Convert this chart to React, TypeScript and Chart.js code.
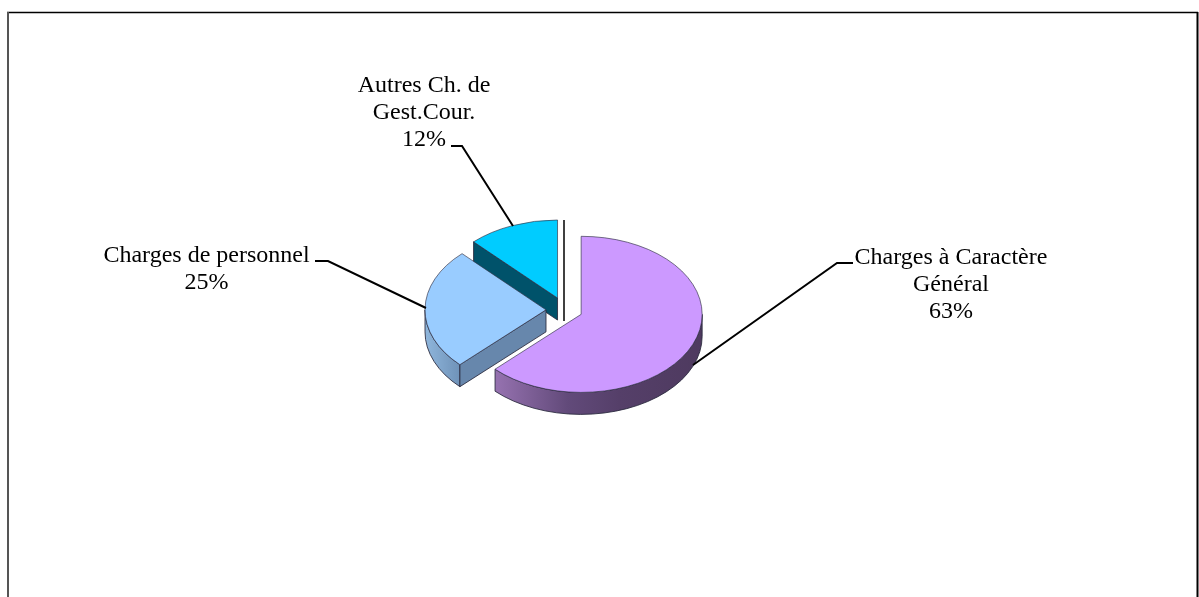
import React, { useEffect, useRef } from "react";
import { Chart, registerables } from "chart.js";

Chart.register(...registerables);

const categories = ["Charges à Caractère Général", "Charges de personnel", "Autres Ch. de Gest.Cour."];
const shares = [62.6, 25.2, 12.2];
const labelLines = [["Charges à Caractère", "Général"], ["Charges de personnel"], ["Autres Ch. de", "Gest.Cour."]];
const topColors = ["#CC99FF", "#99CCFF", "#00CCFF"];

const explode = [17.5, 19, 20];
const tilt = 0.645;
const depth = 22;
const radius = 121;
const fontPx = 24;
const lineGap = 27;
const labelAnchor = [
  { x: 951, y: 264 },
  { x: 206.5, y: 262 },
  { x: 424, y: 92 },
];
const leaders = [
  [[853, 263], [837, 263], [693, 365]],
  [[315, 261], [328, 261], [426, 308]],
  [[451, 146], [462, 146], [513, 226]],
];
const wallStops = [
  [[0, "#9672b0"], [0.35, "#624a7a"], [0.6, "#553f69"], [1, "#4e3a5f"]],
  [[0, "#8fb6dc"], [1, "#6f92b8"]],
];
const faceColors = [null, "#6787ac", "#00526A"];

const center = (chart: any) => ({
  cx: (chart.chartArea.left + chart.chartArea.right) / 2,
  cy: (chart.chartArea.top + chart.chartArea.bottom) / 2,
});

const pie3d = {
  id: "pie3d",
  beforeDraw(chart: any) {
    const ctx = chart.ctx;
    ctx.save();
    ctx.fillStyle = "#fff";
    ctx.fillRect(0, 0, chart.width, chart.height);
    ctx.lineCap = "butt";
    ctx.strokeStyle = "#000";
    ctx.lineWidth = 1.5;
    ctx.beginPath();
    ctx.moveTo(7, 12.5);
    ctx.lineTo(1198, 12.5);
    ctx.stroke();
    ctx.lineWidth = 2;
    ctx.beginPath();
    ctx.moveTo(1197.5, 12);
    ctx.lineTo(1197.5, chart.height);
    ctx.stroke();
    ctx.strokeStyle = "#555";
    ctx.beginPath();
    ctx.moveTo(8, 12);
    ctx.lineTo(8, chart.height);
    ctx.stroke();
    ctx.restore();
  },
  afterDatasetsUpdate(chart: any) {
    const { cx, cy } = center(chart);
    chart.getDatasetMeta(0).data.forEach((arc: any, i: number) => {
      const mid = (arc.startAngle + arc.endAngle) / 2;
      arc.x = cx + Math.cos(mid) * explode[i];
      arc.y = cy + Math.sin(mid) * explode[i];
    });
  },
  beforeDatasetsDraw(chart: any) {
    const ctx = chart.ctx;
    const { cy } = center(chart);
    const arcs = chart.getDatasetMeta(0).data;
    ctx.save();
    ctx.lineWidth = 1;
    ctx.lineJoin = "round";
    ctx.strokeStyle = "rgba(40,40,60,0.85)";
    [2, 1, 0].forEach((i) => {
      const arc = arcs[i];
      const X = arc.x;
      const Y = cy + (arc.y - cy) * tilt;
      const r = arc.outerRadius;
      const ry = r * tilt;
      const a0 = Math.max(arc.startAngle, 0);
      const a1 = Math.min(arc.endAngle, Math.PI);
      if (a1 > a0 && wallStops[i]) {
        const xs = [Math.cos(a0), Math.cos(a1)].map((c) => X + r * c);
        const g = ctx.createLinearGradient(Math.min(...xs), 0, Math.max(...xs), 0);
        wallStops[i].forEach((s: any) => g.addColorStop(s[0], s[1]));
        ctx.fillStyle = g;
        ctx.beginPath();
        ctx.ellipse(X, Y, r, ry, 0, a0, a1);
        ctx.ellipse(X, Y + depth, r, ry, 0, a1, a0, true);
        ctx.closePath();
        ctx.fill();
        ctx.stroke();
      }
      if (faceColors[i]) {
        const ex = X + r * Math.cos(arc.startAngle);
        const ey = Y + ry * Math.sin(arc.startAngle);
        ctx.fillStyle = faceColors[i];
        ctx.beginPath();
        ctx.moveTo(X, Y);
        ctx.lineTo(ex, ey);
        ctx.lineTo(ex, ey + depth);
        ctx.lineTo(X, Y + depth);
        ctx.closePath();
        ctx.fill();
        ctx.stroke();
      }
    });
    ctx.restore();
    ctx.save();
    ctx.translate(0, cy);
    ctx.scale(1, tilt);
    ctx.translate(0, -cy);
  },
  afterDatasetsDraw(chart: any) {
    const ctx = chart.ctx;
    ctx.restore();
    const { cx } = center(chart);
    ctx.save();
    ctx.strokeStyle = "#000";
    ctx.lineWidth = 1.5;
    ctx.beginPath();
    ctx.moveTo(cx - 1, 220);
    ctx.lineTo(cx - 1, 321);
    ctx.stroke();

    ctx.lineWidth = 2;
    leaders.forEach((pts) => {
      ctx.beginPath();
      pts.forEach((p, j) => (j ? ctx.lineTo(p[0], p[1]) : ctx.moveTo(p[0], p[1])));
      ctx.stroke();
    });

    const total = shares.reduce((a, b) => a + b, 0);
    ctx.fillStyle = "#000";
    ctx.font = `${fontPx}px "Liberation Serif"`;
    ctx.textAlign = "center";
    ctx.textBaseline = "alphabetic";
    labelLines.forEach((lines, i) => {
      const all = [...lines, `${Math.round((shares[i] / total) * 100)}%`];
      all.forEach((t, j) => ctx.fillText(t, labelAnchor[i].x, labelAnchor[i].y + j * lineGap));
    });
    ctx.restore();
  },
};

export default function App() {
  const ref = useRef<HTMLCanvasElement>(null);
  useEffect(() => {
    const chart = new Chart(ref.current!, {
      type: "pie",
      data: {
        labels: categories,
        datasets: [
          {
            data: shares,
            backgroundColor: topColors,
            borderColor: "rgba(50,50,70,0.8)",
            borderWidth: 1,
          },
        ],
      },
      options: {
        responsive: false,
        animation: false,
        devicePixelRatio: 1,
        radius,
        layout: { padding: { left: 0, right: 69, top: 23, bottom: 0 } },
        plugins: { legend: { display: false }, tooltip: { enabled: false } },
      } as any,
      plugins: [pie3d],
    });
    return () => chart.destroy();
  }, []);
  return (
    <canvas
      ref={ref}
      width={1199}
      height={597}
      style={{ position: "absolute", left: 0, top: 0, display: "block" }}
    />
  );
}
